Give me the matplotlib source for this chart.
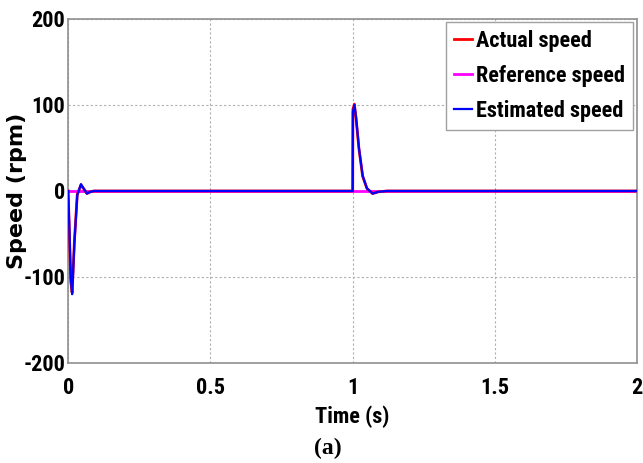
import matplotlib
matplotlib.use('Agg')
from matplotlib import pyplot as plt

# Data (time in s, speed in rpm)
t_est = [0, 0.004, 0.009, 0.014, 0.022, 0.032, 0.045, 0.056, 0.066, 0.078, 0.09,
         1.0, 1.0008, 1.006, 1.012, 1.022, 1.035, 1.05, 1.07, 1.09, 1.12, 2.0]
est_speed = [0, -40, -100, -120, -60, -5, 8, 2, -3, -1, 0,
             0, 92, 100, 85, 50, 18, 3, -3, -1, 0, 0]

t_act = [0, 0.004, 0.009, 0.014, 0.022, 0.032, 0.045, 0.056, 0.066, 0.078, 0.09,
         1.0, 1.0008, 1.006, 1.012, 1.022, 1.035, 1.05, 1.07, 1.09, 1.12, 2.0]
act_speed = [0, -45, -105, -118, -58, -4, 7, 2, -3, -1, 0,
             0, 95, 101, 84, 49, 17, 3, -3, -1, 0, 0]

t_ref = [0, 2.0]
ref_speed = [0, 0]

narrow = ['Roboto Condensed', 'PT Sans Narrow', 'DejaVu Sans']

fig = plt.figure(figsize=(6.43, 4.63), dpi=100)
ax = fig.add_axes([0.106, 0.216, 0.885, 0.743])

tick_font = {'family': narrow, 'stretch': 'condensed', 'weight': 'bold', 'size': 16}

ax.plot(t_ref, ref_speed, color='#ff00ff', lw=2, label='Reference speed', zorder=2)
ax.plot(t_act, act_speed, color='red', lw=2, label='Actual speed', zorder=3)
ax.plot(t_est, est_speed, color='blue', lw=1.6, label='Estimated speed', zorder=4)

ax.set_xlim(0, 2)
ax.set_ylim(-200, 200)
ax.set_xticks([0, 0.5, 1, 1.5, 2])
ax.set_xticklabels(['0', '0.5', '1', '1.5', '2'], fontdict=tick_font)
ax.set_yticks([-200, -100, 0, 100, 200])
ax.set_yticklabels(['-200', '-100', '0', '100', '200'], fontdict=tick_font)
ax.tick_params(axis='x', direction='in', length=0, pad=10)
ax.tick_params(axis='y', direction='in', length=0, pad=2)
ax.grid(True, color='#b0b0b0', linestyle=(0, (2, 2)), lw=0.8)
for s in ax.spines.values():
    s.set_color('#909090')
    s.set_linewidth(1.2)

ax.set_xlabel('Time (s)', family=narrow, stretch='condensed', weight='bold', size=16, labelpad=5)
ax.set_ylabel('Speed (rpm)', family='DejaVu Sans', weight='bold', size=16)
ax.yaxis.set_label_coords(-0.072, 0.5)

handles, labels = ax.get_legend_handles_labels()
order = [1, 0, 2]
leg = ax.legend([handles[i] for i in order], [labels[i] for i in order],
                loc='upper right', bbox_to_anchor=(0.993, 0.99),
                prop={'family': narrow, 'stretch': 'condensed', 'weight': 'bold', 'size': 16},
                handlelength=0.8, handletextpad=0.2, borderpad=0.35,
                labelspacing=0.58, fancybox=False, framealpha=1,
                edgecolor='#a0a0a0', borderaxespad=0)
leg.get_frame().set_linewidth(1.0)

fig.text(0.51, 0.032, '(a)', family='Liberation Serif', weight='bold', size=17,
         ha='center', va='center')

fig.savefig('out.png', dpi=100)
